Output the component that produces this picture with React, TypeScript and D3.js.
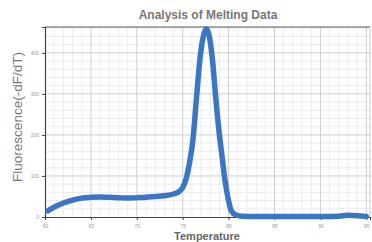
import React, { useEffect, useRef } from 'react';
import * as d3 from 'd3';

// melt curve (temperature °C, -dF/dT)
const temps = [60.3, 61, 62, 63, 64, 65, 66, 67, 68, 69, 70, 71, 72, 73, 74, 74.6, 75.0, 75.4, 75.8, 76.1, 76.5, 76.9, 77.3, 77.6, 77.9, 78.3, 78.6, 79.0, 79.3, 79.6, 79.9, 80.3, 80.8, 81.5, 83, 85, 88, 90, 92, 93, 94, 95];
const values = [15, 24, 34, 41, 46, 48, 49, 48, 47, 46, 47, 48, 50, 52, 56, 62, 72, 95, 140, 185, 290, 390, 445, 458, 440, 370, 290, 200, 145, 90, 50, 15, 5, 2, 1, 1, 1, 1, 2, 4, 3, 1];
const xTicks = [60, 65, 70, 75, 80, 85, 90, 95];
const yTicks = [0, 100, 200, 300, 400];

const App: React.FC = () => {
  const svgRef = useRef<SVGSVGElement>(null);

  useEffect(() => {
    if (!svgRef.current) return;
    const svg = d3.select(svgRef.current);
    svg.selectAll("*").remove();

    const width = 372;
    const height = 242;
    const margin = { top: 27, right: 2, bottom: 25, left: 45 };

    const x = d3.scaleLinear().domain([60, 95.4]).range([margin.left, width - margin.right]);
    const y = d3.scaleLinear().domain([0, 463]).range([height - margin.bottom, margin.top]);

    svg.append("rect").attr("width", width).attr("height", height).attr("fill", "#fff");

    // minor grid
    const g = svg.append("g");
    g.selectAll(".mx").data(d3.range(61, 96, 1).filter(v => v % 5 !== 0))
      .join("line")
      .attr("x1", d => x(d)).attr("x2", d => x(d))
      .attr("y1", margin.top).attr("y2", height - margin.bottom)
      .attr("stroke", "#ececec").attr("stroke-width", 1);
    g.selectAll(".my").data(d3.range(20, 463, 20).filter(v => v % 100 !== 0))
      .join("line")
      .attr("y1", d => y(d)).attr("y2", d => y(d))
      .attr("x1", margin.left).attr("x2", width - margin.right)
      .attr("stroke", "#ececec").attr("stroke-width", 1);

    // major grid
    g.selectAll(".Mx").data(xTicks.slice(1))
      .join("line")
      .attr("x1", d => x(d)).attr("x2", d => x(d))
      .attr("y1", margin.top).attr("y2", height - margin.bottom)
      .attr("stroke", "#cfcfcf").attr("stroke-width", 1);
    g.selectAll(".My").data(yTicks.slice(1))
      .join("line")
      .attr("y1", d => y(d)).attr("y2", d => y(d))
      .attr("x1", margin.left).attr("x2", width - margin.right)
      .attr("stroke", "#cfcfcf").attr("stroke-width", 1);

    // frame
    svg.append("line")
      .attr("x1", margin.left).attr("x2", width - margin.right)
      .attr("y1", margin.top).attr("y2", margin.top)
      .attr("stroke", "#555").attr("stroke-width", 1.2);
    svg.append("line")
      .attr("x1", width - margin.right).attr("x2", width - margin.right)
      .attr("y1", margin.top).attr("y2", height - margin.bottom)
      .attr("stroke", "#ccc");

    // axes
    svg.append("g")
      .attr("transform", `translate(0,${height - margin.bottom})`)
      .call(d3.axisBottom(x).tickValues(xTicks).tickSize(3).tickPadding(4).tickFormat(d3.format("d")))
      .call(a => a.select(".domain").attr("stroke", "#444").attr("stroke-width", 1.2))
      .call(a => a.selectAll("line").attr("stroke", "#444"))
      .call(a => a.selectAll("text").attr("fill", "#999").attr("font-size", 5).attr("font-family", "Liberation Sans, Arial"));

    svg.append("g")
      .attr("transform", `translate(${margin.left},0)`)
      .call(d3.axisLeft(y).tickValues(yTicks).tickSize(3).tickPadding(3).tickFormat(d3.format("d")))
      .call(a => a.select(".domain").attr("stroke", "#444").attr("stroke-width", 1.2))
      .call(a => a.selectAll("line").attr("stroke", "#444"))
      .call(a => a.selectAll("text").attr("fill", "#999").attr("font-size", 5).attr("font-family", "Liberation Sans, Arial"));

    // curve
    const data = temps.map((t, i) => ({ t, v: values[i] }));
    const line = d3.line<{ t: number; v: number }>()
      .x(d => x(d.t))
      .y(d => y(d.v))
      .curve(d3.curveMonotoneX);

    svg.append("path")
      .datum(data)
      .attr("fill", "none")
      .attr("stroke", "#3a76c4")
      .attr("stroke-width", 5.5)
      .attr("stroke-linejoin", "round")
      .attr("stroke-linecap", "round")
      .attr("d", line);

    // titles
    svg.append("text")
      .attr("x", 208).attr("y", 19)
      .attr("text-anchor", "middle")
      .attr("font-family", "Liberation Sans, Arial")
      .attr("font-size", 12).attr("font-weight", "bold")
      .attr("fill", "#777")
      .text("Analysis of Melting Data");

    svg.append("text")
      .attr("x", 207).attr("y", 240)
      .attr("text-anchor", "middle")
      .attr("font-family", "Liberation Sans, Arial")
      .attr("font-size", 11).attr("font-weight", "bold")
      .attr("fill", "#666")
      .text("Temperature");

    svg.append("text")
      .attr("transform", `translate(22,117) rotate(-90)`)
      .attr("text-anchor", "middle")
      .attr("font-family", "Liberation Sans, Arial")
      .attr("font-size", 13.5)
      .attr("fill", "#777")
      .text("Fluorescence(-dF/dT)");
  }, []);

  return (
    <svg ref={svgRef} width={372} height={242} viewBox="0 0 372 242"
      style={{ position: 'absolute', left: 0, top: 0 }} />
  );
};

export default App;
